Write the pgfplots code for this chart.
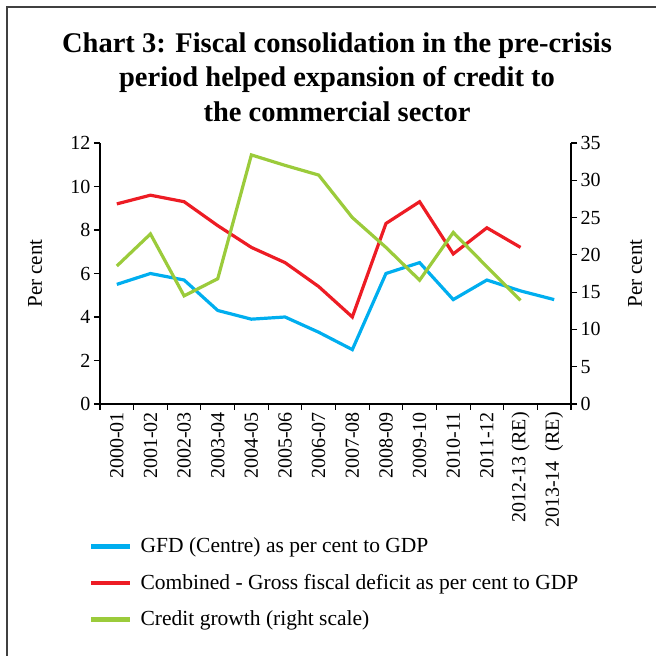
\documentclass[border=0pt]{standalone}
\usepackage{fontspec}
\setmainfont{Liberation Serif}
\usepackage{pgfplots}
\usepackage{pgfplotstable}
\pgfplotsset{compat=1.18}
\definecolor{cblue}{HTML}{00AEEF}
\definecolor{cred}{HTML}{ED1C24}
\definecolor{cgreen}{HTML}{9BCB3B}

\pgfplotstableread{
x gfd comb credit
0 5.5 9.2 18.5
1 6.0 9.6 22.8
2 5.7 9.3 14.5
3 4.3 8.2 16.8
4 3.9 7.2 33.4
5 4.0 6.5 32.0
6 3.3 5.4 30.7
7 2.5 4.0 25.0
8 6.0 8.3 21.0
9 6.5 9.3 16.6
10 4.8 6.9 23.0
11 5.7 8.1 18.4
12 5.2 7.2 13.9
13 4.8 nan nan
}\data

\pgfplotsset{
  common/.style={
    scale only axis, width=471pt, height=261pt,
    at={(100pt,252pt)}, anchor=south west,
    xmin=-0.5, xmax=13.5,
    ymin=0,
    tick align=outside,
    major tick length=6pt, minor tick length=6pt,
    every tick/.style={black, line width=1.1pt},
    axis line style={black, line width=1.5pt},
    tick label style={font=\fontsize{20}{20}\selectfont},
    /pgf/number format/assume math mode=true,
  }
}

\begin{document}
\begin{tikzpicture}[x=1pt,y=1pt]
\useasboundingbox (0,0) rectangle (656,656);
\draw[line width=1.2pt, black!75] (7,0) -- (7,649) -- (656,649);
\node[align=center, font=\bfseries\fontsize{28.5}{34.5}\selectfont] at (337,579)
  {Chart 3: Fiscal consolidation in the pre-crisis\\period helped expansion of credit to\\the commercial sector};

\begin{axis}[common,
  ymax=12, ytick={0,2,...,12},
  axis y line*=left, axis x line*=bottom,
  xtick={0,...,13},
  xticklabels={2000-01,2001-02,2002-03,2003-04,2004-05,2005-06,2006-07,2007-08,2008-09,2009-10,2010-11,2011-12,2012-13 (RE),2013-14\ \ (RE)},
  xticklabel style={rotate=90, anchor=east, inner sep=2pt},
  major x tick style={draw=none},
  minor xtick={-0.5,0.5,...,13.5},
  every axis y label/.style={at={(axis description cs:-0.138,0.5)}, rotate=90, anchor=center, font=\fontsize{21}{21}\selectfont},
  ylabel={Per cent},
  ]
\addplot[cblue, line width=3.2pt] table[x=x, y=gfd] {\data};
\addplot[cred, line width=3.2pt] table[x=x, y=comb] {\data};
\end{axis}

\begin{axis}[common,
  ymax=35, ytick={0,5,...,35},
  axis y line*=right, axis x line=none,
  every axis y label/.style={at={(axis description cs:1.136,0.5)}, rotate=90, anchor=center, font=\fontsize{21}{21}\selectfont},
  ylabel={Per cent},
  legend style={draw=none, fill=none, inner sep=0pt, at={(axis description cs:-0.019,-0.505)}, anchor=north west,
    font=\fontsize{21.5}{21.5}\selectfont, row sep=16pt, cells={anchor=west}},
  legend image code/.code={\fill[#1] (0pt,-1.65pt) rectangle (38pt,1.65pt); \path (47pt,0pt);},
  ]
\addplot[cgreen, line width=3.2pt, forget plot] table[x=x, y=credit] {\data};
\addlegendimage{cblue}
\addlegendentry{GFD (Centre) as per cent to GDP}
\addlegendimage{cred}
\addlegendentry{Combined - Gross fiscal deficit as per cent to GDP}
\addlegendimage{cgreen}
\addlegendentry{Credit growth (right scale)}
\end{axis}
\end{tikzpicture}
\end{document}
